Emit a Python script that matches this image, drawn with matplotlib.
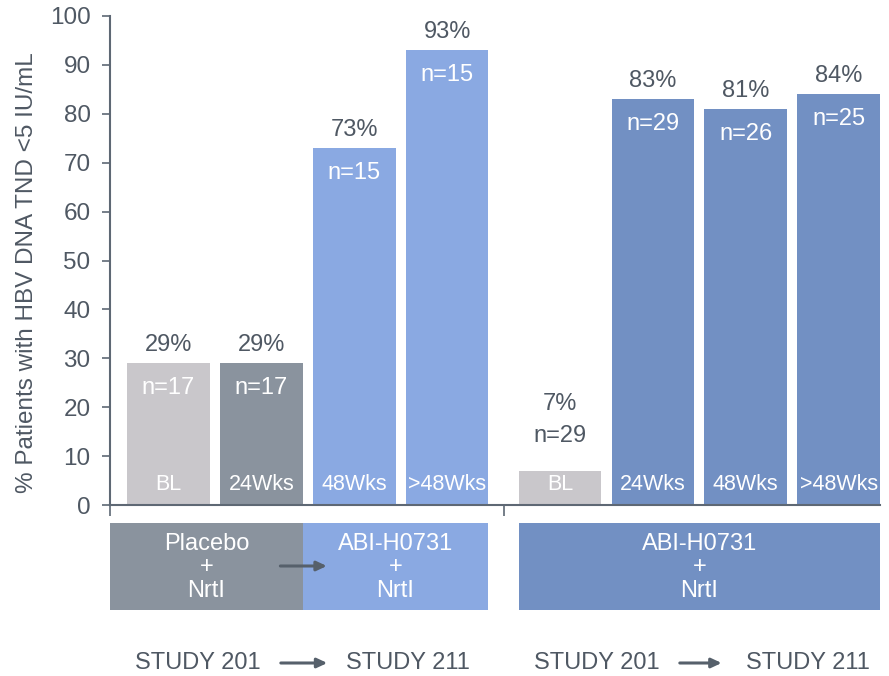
import matplotlib
matplotlib.use("Agg")
import matplotlib.pyplot as plt
import numpy as np

plt.rcParams['font.family'] = ['Liberation Sans', 'DejaVu Sans']

# data
periods = ['BL', '24Wks', '48Wks', '>48Wks', 'BL', '24Wks', '48Wks', '>48Wks']
pct = [29, 29, 73, 93, 7, 83, 81, 84]
n_pat = [17, 17, 15, 15, 29, 29, 26, 25]
group = ['A', 'A', 'A', 'A', 'B', 'B', 'B', 'B']

c_bl = '#C9C7CB'
c_24 = '#8A939E'
c_lb = '#8AA9E2'
c_db = '#7290C3'
colours = [c_bl, c_24, c_lb, c_lb, c_bl, c_db, c_db, c_db]
txt = '#4F5863'
axc = '#5E6874'

# x positions: second group shifted by a gap
gap = 0.215
x = np.array([i + (gap if group[i] == 'B' else 0) for i in range(len(pct))], dtype=float)
w = 0.89
xmin, xmax = x[0] - 0.629, x[-1] + w / 2

fig = plt.figure(figsize=(8.89, 6.76), dpi=100)
ax = fig.add_axes([110 / 889, 171 / 676, (880 - 110) / 889, 489 / 676])

ax.bar(x, pct, width=w, color=colours, edgecolor='none', zorder=2)

for i in range(len(pct)):
    if pct[i] > 15:
        ax.annotate(f'{pct[i]}%', (x[i], pct[i]), xytext=(0, 5), textcoords='offset points',
                    ha='center', va='bottom', fontsize=17, color=txt)
        ax.annotate(f'n={n_pat[i]}', (x[i], pct[i]), xytext=(0, -10), textcoords='offset points',
                    ha='center', va='top', fontsize=17, color='white')
    else:
        ax.annotate(f'n={n_pat[i]}', (x[i], pct[i]), xytext=(0, 17), textcoords='offset points',
                    ha='center', va='bottom', fontsize=17, color=txt)
        ax.annotate(f'{pct[i]}%', (x[i], pct[i]), xytext=(0, 40), textcoords='offset points',
                    ha='center', va='bottom', fontsize=17, color=txt)
    ax.annotate(periods[i], (x[i], 0), xytext=(0, 7), textcoords='offset points',
                ha='center', va='bottom', fontsize=15.5, color='white')

ax.set_xlim(xmin, xmax)
ax.set_ylim(0, 100)
ax.set_yticks(np.arange(0, 101, 10))
sep = (x[3] + x[4]) / 2 + 0.005
ax.set_xticks([xmin, sep])
ax.set_xticklabels(['', ''])
ax.tick_params(axis='x', direction='out', length=8, width=1.2, color=axc)
ax.tick_params(axis='y', direction='out', length=6, width=1.2, color=axc,
               labelsize=17.5, labelcolor=txt, pad=8)
for s in ['top', 'right']:
    ax.spines[s].set_visible(False)
for s in ['left', 'bottom']:
    ax.spines[s].set_color(axc)
    ax.spines[s].set_linewidth(1.5)
ax.set_ylabel('% Patients with HBV DNA TND <5 IU/mL', fontsize=17.5, color=txt)
ax.yaxis.set_label_coords(-0.093, 0.475)

# treatment boxes and study labels below (y in image pixel rows)
ax2 = fig.add_axes([110 / 889, 0, (880 - 110) / 889, 160 / 676])
ax2.set_xlim(xmin, xmax)
ax2.set_ylim(676, 516)
ax2.axis('off')

top, bot = 523, 610
boxes = [
    (xmin, x[1] + w / 2, c_24, 'Placebo\n+\nNrtI'),
    (x[1] + w / 2, x[3] + w / 2, c_lb, 'ABI-H0731\n+\nNrtI'),
    (x[4] - w / 2, x[7] + w / 2, c_db, 'ABI-H0731\n+\nNrtI'),
]
for x0, x1, col, lab in boxes:
    ax2.fill_between([x0, x1], top, bot, color=col, linewidth=0)
    ax2.text((x0 + x1) / 2, (top + bot) / 2 + 1, lab, ha='center', va='center',
             fontsize=17, color='white', linespacing=1.08)

arr = dict(arrowstyle='-|>,head_length=0.6,head_width=0.28', color='#56606B', lw=2.2)
ax2.annotate('', xy=(x[1] + w / 2 + 0.29, 566), xytext=(x[1] + w / 2 - 0.27, 566), arrowprops=arr)

for g, (oa, ob, a0, a1) in zip([0, 4], [(0.32, 2.58, 1.18, 1.74), (0.40, 2.67, 1.26, 1.77)]):
    ax2.text(x[g] + oa, 663, 'STUDY 201', ha='center', va='center', fontsize=17, color=txt)
    ax2.text(x[g] + ob, 663, 'STUDY 211', ha='center', va='center', fontsize=17, color=txt)
    ax2.annotate('', xy=(x[g] + a1, 663), xytext=(x[g] + a0, 663), arrowprops=arr)

fig.savefig('out.png', dpi=100)
